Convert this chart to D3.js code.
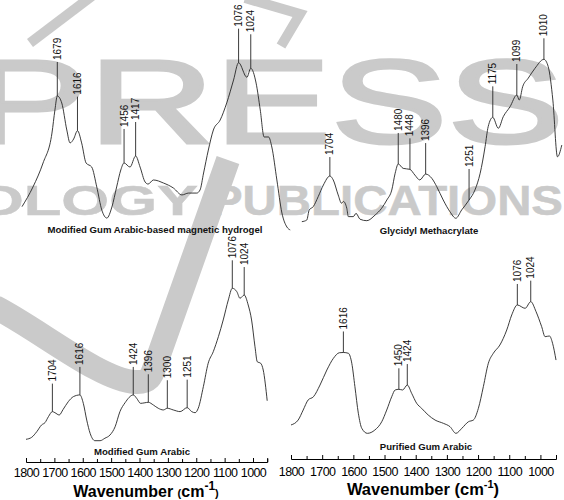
<!DOCTYPE html>
<html>
<head>
<meta charset="utf-8">
<script src="https://cdn.jsdelivr.net/npm/d3@7"></script>
<style>
  html, body { margin: 0; padding: 0; background: #fff; }
  svg { display: block; font-family: "Liberation Sans", Arial, sans-serif; }
</style>
</head>
<body>
<svg id="chart" width="564" height="500"></svg>
<script>
// FTIR spectra, relative intensity 0-100
const hydrogelWn  = [1800,1763,1729,1699,1689,1681,1666,1649,1638,1626,1613,1599,1584,1565,1548,1531,1514,1497,1481,1467,1456,1436,1417,1402,1385,1375,1357,1323,1290,1261,1239,1211,1200,1188,1172,1155,1132,1110,1087,1070,1042,1029,1011,997,984,969,958,941,924,907,896];
const hydrogelVal = [14.9,26.5,40.6,58.2,71.8,80,75.9,60,52.4,54.7,59.6,52.4,40.6,38.2,26.5,12.9,8.2,14.7,26.5,36.5,40.6,38.2,44.7,38.2,29.4,28.2,30.6,28.8,25.9,21.8,22.9,22.9,24.7,34.7,48.2,60,65.9,75.9,89.4,99.6,91,96.3,87.6,71.8,55.9,55.9,50,30.6,11.2,2.9,1.2];
const hydrogelPeakPos = [1681,1613,1456,1417,1070,1029];
const hydrogelPeakLabels = ["1679","1616","1456","1417","1076","1024"];

const gmaWn  = [1796,1780,1772,1759,1743,1726,1705,1694,1678,1667,1661,1650,1645,1629,1620,1607,1585,1558,1537,1520,1504,1493,1483,1467,1445,1429,1413,1394,1374,1358,1337,1315,1296,1277,1253,1234,1217,1201,1191,1176,1158,1142,1120,1098,1090,1079,1061,1039,1010,996,981,966,952];
const gmaVal = [0.2,1.2,7.4,9.4,15.5,22.7,28.2,25.8,16.6,11.5,12.6,8.4,3.3,3.3,5.3,1.7,0.8,4.3,8.4,13.5,19.6,29.9,35.6,32.9,32.3,28.8,25.8,29.4,26.8,21.7,13.5,6.3,2.3,7.4,13.5,19.6,29.9,46.2,58.5,64.2,57.5,64.6,70.7,77.9,74.8,83,88.2,94.3,99.8,95.3,74.8,40,47.2];
const gmaPeakPos = [1705,1483,1445,1394,1253,1176,1098,1010];
const gmaPeakLabels = ["1704","1480","1448","1396","1251","1175","1099","1010"];

const mgaWn  = [1800,1780,1762,1745,1733,1721,1707,1698,1683,1669,1651,1633,1610,1598,1586,1574,1557,1539,1522,1504,1486,1469,1451,1422,1410,1396,1381,1369,1351,1334,1316,1302,1281,1257,1232,1216,1204,1193,1175,1158,1140,1122,1105,1087,1073,1057,1046,1031,1017,1005,993,985,973,964,950];
const mgaVal = [1.1,2.4,6.1,10.5,12,15.9,19.2,18.5,17,20.7,25.7,29,30.1,24.6,13.7,5,0.2,0.2,1.8,3.9,9.3,19.2,25,30.1,27.9,24.6,25,25.3,23.5,21.4,20.3,21.4,20.3,19.2,21.8,19.2,18.5,21.4,35.5,50.8,58.4,68.2,79.1,92.2,99.8,97.6,93.3,95.4,88.9,79.1,61.6,51.8,50.8,46.4,26.3];
const mgaPeakPos = [1707,1610,1422,1369,1302,1232,1073,1031];
const mgaPeakLabels = ["1704","1616","1424","1396","1300","1251","1076","1024"];

const pgaWn  = [1800,1777,1761,1745,1728,1707,1685,1664,1645,1632,1616,1605,1595,1584,1573,1555,1531,1509,1493,1477,1466,1454,1442,1427,1413,1397,1381,1360,1338,1311,1290,1271,1252,1231,1215,1199,1183,1167,1151,1130,1108,1092,1074,1049,1031,1014,996,985,971,961,950];
const pgaVal = [6.8,10.5,18,25.6,28,36.8,48.1,56.9,61.1,61.3,60.7,53.2,35.6,15.6,4.3,0.5,3,9.2,18,28,33.1,33.6,33.1,36.8,30.6,23.1,19.3,14.3,10.5,8,5.5,0.5,4.3,9.2,10.5,19.3,35.6,53.2,60.7,66.9,78.2,89.5,97,94.5,99.5,92,80.7,73.2,73.7,68.2,55.6];
const pgaPeakPos = [1632,1454,1427,1074,1031];
const pgaPeakLabels = ["1616","1450","1424","1076","1024"];

const titles = ["Modified Gum Arabic-based magnetic hydrogel", "Glycidyl Methacrylate", "Modified Gum Arabic", "Purified Gum Arabic"];
const majorTicks = [1800,1700,1600,1500,1400,1300,1200,1100,1000];
const minorTicks = [1750,1650,1550,1450,1350,1250,1150,1050,950];

const svg = d3.select("#chart");
const ink = "#262626";
const wmGrey = "#cacaca";

// faint publisher watermark behind the spectra
const wm = svg.append("g").attr("fill", wmGrey).attr("stroke", wmGrey);
wm.append("text").attr("x", -28).attr("y", 143).attr("font-size", 118).attr("stroke-width", 3)
  .attr("textLength", 592).attr("lengthAdjust", "spacingAndGlyphs").text("PRESS");
wm.append("text").attr("x", -24).attr("y", 215).attr("font-size", 42).attr("font-weight", "bold")
  .attr("stroke-width", 0.5).attr("textLength", 222).attr("lengthAdjust", "spacingAndGlyphs").text("OLOGY");
wm.append("text").attr("x", 211).attr("y", 215).attr("font-size", 42).attr("font-weight", "bold")
  .attr("stroke-width", 0.5).attr("textLength", 352).attr("lengthAdjust", "spacingAndGlyphs").text("PUBLICATIONS");
const swoosh = svg.append("g").attr("fill", "none").attr("stroke", wmGrey);
swoosh.append("path").attr("stroke-width", 24)
  .attr("d", "M-5,307 C40,330 100,380 135,382 C150,383 152,375 155,366 L228,160");
swoosh.append("path").attr("stroke-width", 10).attr("d", "M92,-4 L30,43");
swoosh.append("path").attr("stroke-width", 10).attr("stroke-linejoin", "miter")
  .attr("d", "M245,-2 L300,14 L281,46");

const panels = [
  { wn: hydrogelWn, val: hydrogelVal, pos: hydrogelPeakPos, labels: hydrogelPeakLabels, title: titles[0],
    dom: [1800, 890], xr: [22, 292], yr: [232, 62], stem: 34, tx: 155, ty: 233 },
  { wn: gmaWn, val: gmaVal, pos: gmaPeakPos, labels: gmaPeakLabels, title: titles[1],
    dom: [1800, 950], xr: [300.6, 562.4], yr: [222, 59], stem: 31, stems: {"1704": 19, "1010": 21}, tx: 429, ty: 234 },
  { wn: mgaWn, val: mgaVal, pos: mgaPeakPos, labels: mgaPeakLabels, title: titles[2],
    dom: [1800, 950], xr: [26, 267.2], yr: [441, 288], stem: 28, tx: 142, ty: 455,
    axisY: 462, pad: 6 },
  { wn: pgaWn, val: pgaVal, pos: pgaPeakPos, labels: pgaPeakLabels, title: titles[3],
    dom: [1800, 950], xr: [291, 556], yr: [434, 301], stem: 21, tx: 426, ty: 450,
    axisY: 459, pad: 8 }
];

panels.forEach(p => {
  const x = d3.scaleLinear().domain(p.dom).range(p.xr);
  const y = d3.scaleLinear().domain([0, 100]).range(p.yr);
  const pts = p.wn.map((w, i) => [w, p.val[i]]);

  const line = d3.line().x(d => x(d[0])).y(d => y(d[1])).curve(d3.curveMonotoneX);
  svg.append("path").datum(pts).attr("d", line)
    .attr("fill", "none").attr("stroke", ink).attr("stroke-width", 0.9);

  // intensity at a wavenumber (data is in descending wavenumber)
  const at = w => {
    for (let i = 0; i < pts.length - 1; i++) {
      const a = pts[i], b = pts[i + 1];
      if (w <= a[0] && w >= b[0]) return a[1] + (b[1] - a[1]) * (a[0] - w) / (a[0] - b[0]);
    }
    return pts[pts.length - 1][1];
  };

  p.pos.forEach((pk, i) => {
    const lab = p.labels[i];
    const px = x(pk), py = y(at(pk));
    const len = (p.stems && p.stems[lab]) || p.stem;
    svg.append("line").attr("x1", px).attr("x2", px).attr("y1", py).attr("y2", py - len)
      .attr("stroke", ink).attr("stroke-width", 0.9);
    svg.append("text").attr("transform", `translate(${px},${py - len - 2}) rotate(-90)`)
      .attr("dy", "0.35em").attr("font-size", 10).attr("fill", "#111").text(lab);
  });

  svg.append("text").attr("x", p.tx).attr("y", p.ty).attr("text-anchor", "middle")
    .attr("font-size", 9.6).attr("font-weight", "bold").attr("fill", "#111").text(p.title);

  if (p.axisY) {
    const g = svg.append("g").attr("transform", `translate(0,${p.axisY})`);
    g.call(d3.axisBottom(x).tickValues(majorTicks).tickFormat(d3.format("d"))
      .tickSize(-4).tickSizeOuter(-4).tickPadding(p.pad));
    g.append("g").call(d3.axisBottom(x).tickValues(minorTicks).tickFormat("").tickSize(-3))
      .select(".domain").remove();
    g.selectAll("text").attr("font-size", 12.5).attr("letter-spacing", "-0.6px")
      .attr("font-family", "'Liberation Sans', Arial, sans-serif").attr("fill", "#000");
    g.selectAll("path, line").attr("stroke", "#000");
  }
});

// axis titles
const t1 = svg.append("text").attr("x", 146).attr("y", 497).attr("text-anchor", "middle")
  .attr("font-weight", "bold").attr("font-size", 16).attr("fill", "#000");
t1.append("tspan").text("Wavenumber ");
t1.append("tspan").attr("font-size", 11).text("(");
t1.append("tspan").text("cm");
t1.append("tspan").attr("font-size", 12).attr("dy", -7).text("-1");
t1.append("tspan").attr("font-size", 11).attr("dy", 7).text(")");

const t2 = svg.append("text").attr("x", 423).attr("y", 495).attr("text-anchor", "middle")
  .attr("font-weight", "bold").attr("font-size", 16.5).attr("fill", "#000");
t2.append("tspan").text("Wavenumber (cm");
t2.append("tspan").attr("font-size", 11).attr("dy", -7).text("-1");
t2.append("tspan").attr("dy", 7).text(")");
</script>
</body>
</html>
